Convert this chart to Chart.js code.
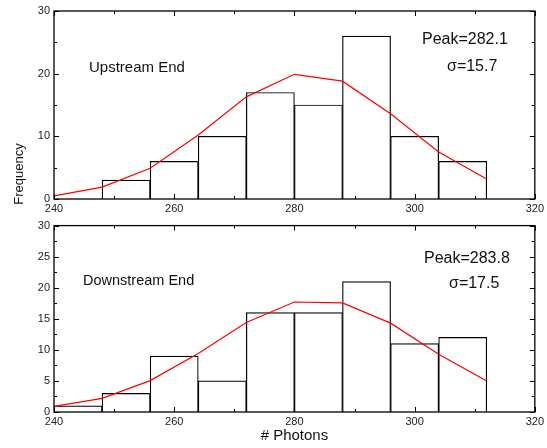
<!DOCTYPE html>
<html>
<head>
<meta charset="UTF-8" />
<title>Photon histograms</title>
<script src="https://cdn.jsdelivr.net/npm/chart.js"></script>
<style>
  body { margin: 0; background: #fff; }
  #wrap { position: relative; width: 547px; height: 448px; }
  canvas { position: absolute; left: 0; }
  #c1 { top: 0; }
  #c2 { top: 215px; }
</style>
</head>
<body>
<div id="wrap">
  <canvas id="c1" width="547" height="215"></canvas>
  <canvas id="c2" width="547" height="233"></canvas>
</div>

<script>
// histogram bins (8 photons wide), centers
const binCenters = [244, 252, 260, 268, 276, 284, 292, 300, 308];
const upCounts = [null, 3, 6, 10, 17, 15, 26, 10, 6];
const downCounts = [1, 3, 9, 5, 16, 16, 21, 11, 12];

// gaussian fit curve, sampled at the bin edges
const fitX = [240, 248, 256, 264, 272, 280, 288, 296, 304, 312];
const upFit = [0.5, 1.9, 4.9, 10.2, 16.3, 19.9, 18.8, 13.6, 7.5, 3.2];
const downFit = [0.9, 2.2, 5.05, 9.4, 14.4, 17.7, 17.55, 14.3, 9.3, 5.0];

const xTicks = [240, 260, 280, 300, 320];

const FONT = '"Liberation Sans", Arial, sans-serif';
Chart.defaults.font.family = FONT;
Chart.defaults.color = '#222';

// frame + inward tick marks on all four sides, plus the text notes
const framePlugin = {
  id: 'frame',
  afterDraw(chart, args, opts) {
    const { ctx, chartArea: a, scales } = chart;
    const x = scales.x, y = scales.y;
    ctx.save();
    ctx.strokeStyle = '#000';
    ctx.lineWidth = 1.3;
    ctx.strokeRect(a.left, a.top, a.right - a.left, a.bottom - a.top);
    ctx.lineWidth = 1;
    ctx.beginPath();
    for (let v = 240; v <= 320; v += 10) {
      const px = Math.round(x.getPixelForValue(v)) + 0.5;
      const len = v % 20 === 0 ? 5 : 3;
      ctx.moveTo(px, a.bottom); ctx.lineTo(px, a.bottom - len);
      ctx.moveTo(px, a.top); ctx.lineTo(px, a.top + len);
    }
    for (let v = 0; v <= 30; v += opts.minor) {
      const py = Math.round(y.getPixelForValue(v)) + 0.5;
      const len = Math.abs(v % opts.major) < 0.01 ? 5 : 3;
      ctx.moveTo(a.left, py); ctx.lineTo(a.left + len, py);
      ctx.moveTo(a.right, py); ctx.lineTo(a.right - len, py);
    }
    ctx.stroke();

    ctx.fillStyle = '#111';
    ctx.textBaseline = 'middle';
    ctx.textAlign = 'left';
    opts.notes.forEach(n => {
      ctx.font = n.size + 'px ' + FONT;
      ctx.fillText(n.text, n.x, n.y);
    });

    // shared y title, drawn once on the top canvas
    if (opts.yTitle) {
      ctx.translate(19, 174);
      ctx.rotate(-Math.PI / 2);
      ctx.textAlign = 'center';
      ctx.font = '13px ' + FONT;
      ctx.fillText(opts.yTitle, 0, 0);
    }
    ctx.restore();
  }
};

function makeChart(id, counts, fit, opt) {
  return new Chart(document.getElementById(id), {
    data: {
      datasets: [
        {
          type: 'line',
          data: fitX.map((v, i) => ({ x: v, y: fit[i] })),
          borderColor: '#ff0000',
          borderWidth: 1.2,
          pointRadius: 0,
          tension: 0,
          order: 0
        },
        {
          type: 'bar',
          data: binCenters.map((v, i) => ({ x: v, y: counts[i] })),
          backgroundColor: '#fff',
          borderColor: '#000',
          borderWidth: 1.2,
          barPercentage: 1,
          categoryPercentage: 1,
          order: 1
        }
      ]
    },
    options: {
      responsive: false,
      animation: false,
      devicePixelRatio: 1,
      layout: { padding: { top: opt.padTop, right: 11, left: 0, bottom: 0 } },
      plugins: {
        legend: { display: false },
        tooltip: { enabled: false },
        frame: { major: opt.major, minor: opt.minor, notes: opt.notes, yTitle: opt.yTitle }
      },
      scales: {
        x: {
          type: 'linear',
          min: 240, max: 320,
          offset: false,
          grid: { display: false, drawTicks: false, tickLength: 0, offset: false },
          border: { display: false },
          afterBuildTicks: s => { s.ticks = xTicks.map(v => ({ value: v })); },
          ticks: { font: { size: 11 }, padding: opt.xPad, maxRotation: 0, autoSkip: false },
          title: opt.xTitle ? {
            display: true, text: '# Photons', color: '#111',
            font: { size: 15 }, padding: { top: 0, bottom: 3 }
          } : { display: false },
          afterFit: s => { s.height = opt.xHeight; }
        },
        y: {
          min: 0, max: 30,
          grid: { display: false, drawTicks: false, tickLength: 0 },
          border: { display: false },
          ticks: { stepSize: opt.major, font: { size: 11 }, padding: 4 },
          afterFit: s => { s.width = 54; }
        }
      }
    },
    plugins: [framePlugin]
  });
}

makeChart('c1', upCounts, upFit, {
  padTop: 11, xHeight: 16, xPad: 3, major: 10, minor: 5, xTitle: false,
  yTitle: 'Frequency',
  notes: [
    { text: 'Upstream End', x: 89, y: 68, size: 15 },
    { text: 'Peak=282.1', x: 422, y: 40, size: 16 },
    { text: '\u03c3=15.7', x: 447, y: 67, size: 16 }
  ]
});

makeChart('c2', downCounts, downFit, {
  padTop: 9, xHeight: 36, xPad: 3, major: 5, minor: 2.5, xTitle: true,
  notes: [
    { text: 'Downstream End', x: 83, y: 66, size: 14.5 },
    { text: 'Peak=283.8', x: 424, y: 44, size: 16 },
    { text: '\u03c3=17.5', x: 449, y: 69, size: 16 }
  ]
});
</script>
</body>
</html>
